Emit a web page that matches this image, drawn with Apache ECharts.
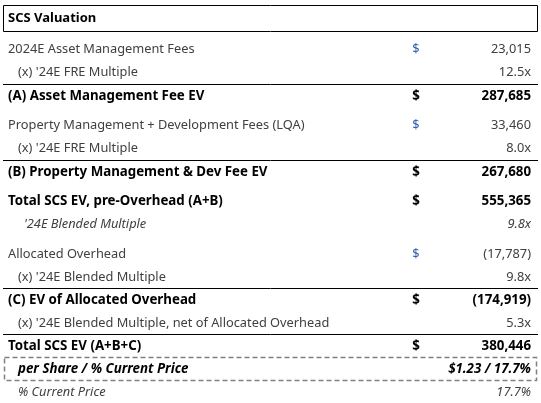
<!DOCTYPE html>
<html><head><meta charset="utf-8">
<script src="https://cdn.jsdelivr.net/npm/echarts@6/dist/echarts.min.js"></script>
<style>html,body{margin:0;padding:0;background:#fff}#c{width:541px;height:403px}</style>
</head><body><div id="c"></div>
<script>
var title = 'SCS Valuation';
var labels = ['2024E Asset Management Fees', "(x) '24E FRE Multiple", '(A) Asset Management Fee EV',
  'Property Management + Development Fees (LQA)', "(x) '24E FRE Multiple", '(B) Property Management & Dev Fee EV',
  'Total SCS EV, pre-Overhead (A+B)', "'24E Blended Multiple", 'Allocated Overhead', "(x) '24E Blended Multiple",
  '(C) EV of Allocated Overhead', "(x) '24E Blended Multiple, net of Allocated Overhead", 'Total SCS EV (A+B+C)',
  'per Share / % Current Price', '% Current Price'];
var values = ['23,015', '12.5x', '287,685', '33,460', '8.0x', '267,680', '555,365', '9.8x', '(17,787)', '9.8x',
  '(174,919)', '5.3x', '380,446', '$1.23 / 17.7%', '17.7%'];
var dollars = ['$', '', '$', '$', '', '$', '$', '', '$', '', '$', '', '$', '', ''];
var kinds = ['n', 's', 'b', 'n', 's', 'b', 'b', 'i', 'n', 's', 'b', 's', 'b', 'bi', 'i'];
var rowY = [49, 72, 96, 125, 148, 172, 201, 224, 254, 277, 300, 323, 346, 369, 392];
var lineAfter = [84, 160, 288, 334];

var F = 'Noto Sans';
var g = [];
g.push({type:'rect', shape:{x:3.5,y:5.5,width:534,height:26}, style:{fill:'none',stroke:'#000',lineWidth:1}});
g.push({type:'text', x:8, y:18, style:{text:title, font:'bold 13px "'+F+'"', fill:'#000', textVerticalAlign:'middle'}});
labels.forEach(function(l,i){
  var k = kinds[i], y = rowY[i];
  var bold = k[0]==='b', ital = k==='i'||k==='bi';
  var fill = bold ? '#000' : '#404040';
  var indent = (k==='s'||k==='bi'||k==='i') ? 18 : 8;
  if (i===7) indent = 24;
  var size = bold ? 13.3 : 12.8;
  var font = (ital?'italic ':'') + (bold?'bold ':'') + size + 'px "'+F+'"';
  g.push({type:'text', x:indent, y:y, style:{text:l, font:font, fill:fill, textVerticalAlign:'middle'}});
  if (dollars[i]) g.push({type:'text', x:416, y:y, style:{text:'$', font:font, fill:bold?'#000':'#2f5fb0', textAlign:'center', textVerticalAlign:'middle'}});
  g.push({type:'text', x:531, y:y, style:{text:values[i], font:font, fill:fill, textAlign:'right', textVerticalAlign:'middle'}});
});
lineAfter.forEach(function(y){
  g.push({type:'line', shape:{x1:3,y1:y+0.5,x2:538,y2:y+0.5}, style:{stroke:'#000',lineWidth:1}});
});
g.push({type:'rect', shape:{x:4.5,y:357.5,width:532,height:23}, style:{fill:'none',stroke:'#808080',lineWidth:1.5,lineDash:[5,3]}});
var chart = echarts.init(document.getElementById('c'));
chart.setOption({animation:false, graphic:g});
</script></body></html>
